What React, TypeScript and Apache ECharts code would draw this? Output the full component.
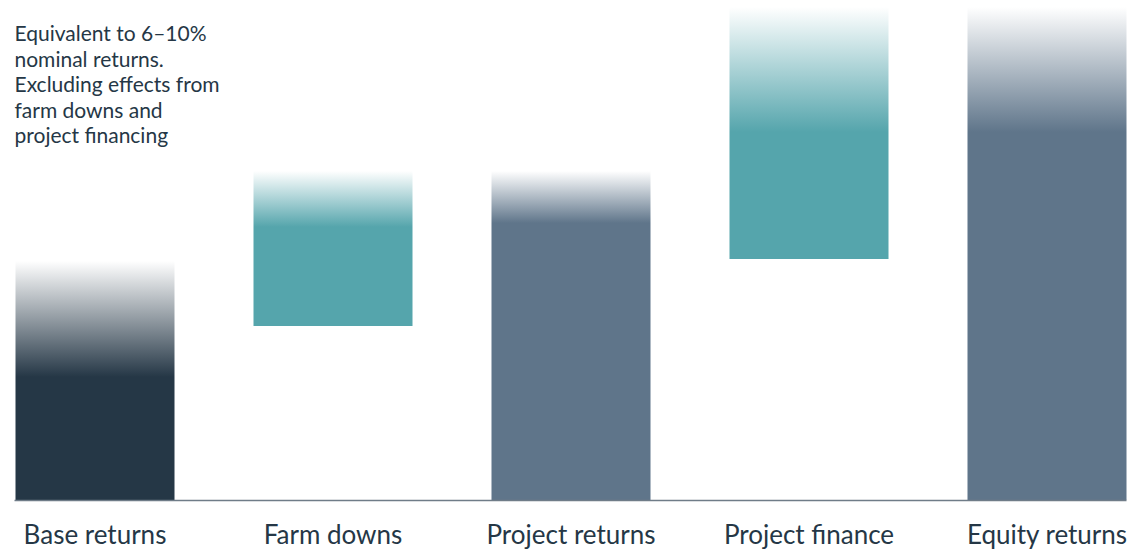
import React, { useEffect, useRef } from "react";
import * as echarts from "echarts";

const categories = ["Base returns", "Farm downs", "Project returns", "Project finance", "Equity returns"];
const offsetValues = [0, 17.4, 0, 24.1, 0];
const solidValues = [12.3, 9.9, 27.7, 12.7, 36.8];
const fadeValues = [11.6, 5.6, 5.2, 12.5, 12.5];
const note = "Equivalent to 6\u201310%\nnominal returns.\nExcluding effects from\nfarm downs and\nproject financing";

const palette: [number, number, number][] = [
  [37, 55, 70],
  [85, 165, 172],
  [95, 117, 138],
  [85, 165, 172],
  [95, 117, 138],
];
const rgba = (c: [number, number, number], a: number) => `rgba(${c[0]},${c[1]},${c[2]},${a})`;
const FONT = "Lato";
const SHIFT = 24.5;

export default function App() {
  const ref = useRef<HTMLDivElement>(null);
  useEffect(() => {
    if (!ref.current) return;
    const chart = echarts.init(ref.current, undefined, { renderer: "svg" });
    chart.setOption({
      animation: false,
      backgroundColor: "#ffffff",
      grid: { left: 0, right: 0, top: 0, bottom: 50, containLabel: false },
      xAxis: {
        type: "category",
        data: categories,
        axisLine: { show: false },
        axisTick: { show: false },
        axisLabel: { fontSize: 26, color: "#253746", fontFamily: FONT, margin: 21, interval: 0 },
      },
      yAxis: { type: "value", min: 0, max: 50, show: false },
      series: [
        {
          type: "bar",
          stack: "a",
          barWidth: 159,
          data: offsetValues,
          itemStyle: { color: "rgba(0,0,0,0)" },
          silent: true,
        },
        {
          type: "bar",
          stack: "a",
          barWidth: 159,
          data: solidValues.map((v, i) => ({ value: v, itemStyle: { color: rgba(palette[i], 1) } })),
        },
        {
          type: "bar",
          stack: "a",
          barWidth: 159,
          data: fadeValues.map((v, i) => ({
            value: v,
            itemStyle: {
              color: {
                type: "linear",
                x: 0,
                y: 0,
                x2: 0,
                y2: 1,
                colorStops: [
                  { offset: 0, color: rgba(palette[i], 0) },
                  { offset: 1, color: rgba(palette[i], 1) },
                ],
              },
            },
          })),
        },
      ],
      graphic: [
        {
          type: "line",
          z: 100,
          shape: { x1: 14 + SHIFT, y1: 500.5, x2: 1126 + SHIFT, y2: 500.5 },
          style: { stroke: "#6f7c88", lineWidth: 1.5 },
        },
        {
          type: "text",
          left: 14 + SHIFT,
          top: 20,
          style: {
            text: note,
            font: `21px ${FONT}`,
            lineHeight: 25.5,
            fill: "#253746",
          },
        },
      ],
    });
    return () => chart.dispose();
  }, []);
  return (
    <div
      ref={ref}
      style={{ position: "fixed", left: -SHIFT, top: 0, width: 1130 + 24.5 + 35.5, height: 550 }}
    />
  );
}
